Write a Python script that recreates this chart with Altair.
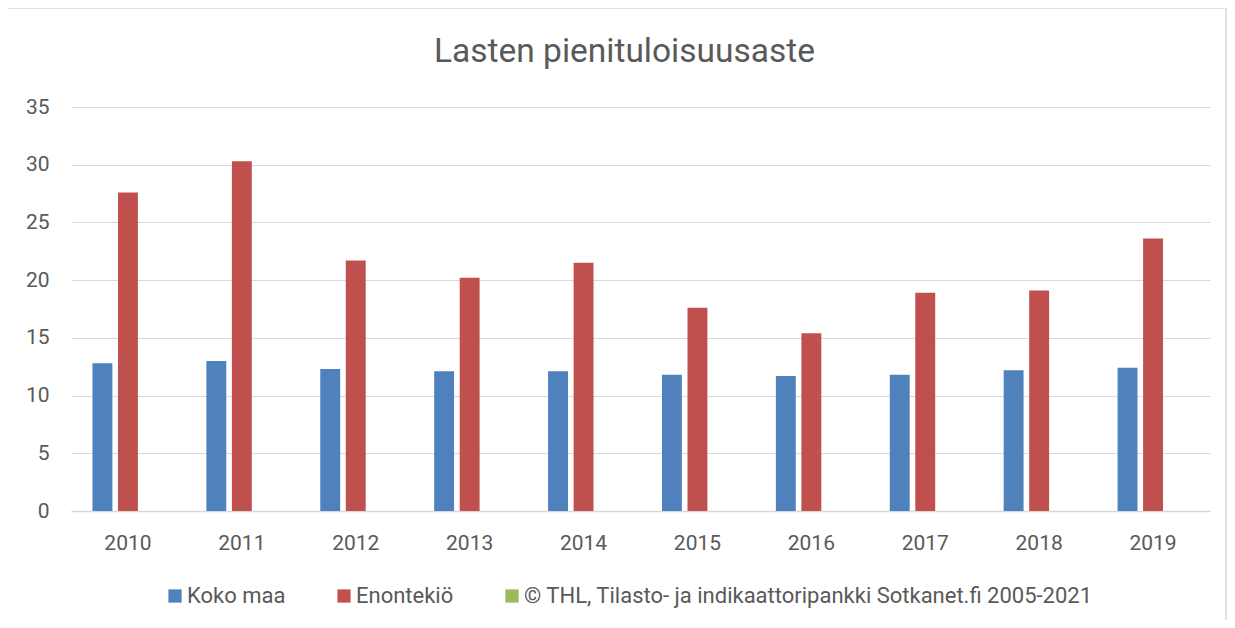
import altair as alt
import pandas as pd

years = ["2010", "2011", "2012", "2013", "2014", "2015", "2016", "2017", "2018", "2019"]
koko_maa = [12.8, 13.0, 12.3, 12.1, 12.1, 11.8, 11.7, 11.8, 12.2, 12.4]
enontekio = [27.6, 30.3, 21.7, 20.2, 21.5, 17.6, 15.4, 18.9, 19.1, 23.6]
series_names = ["Koko maa", "Enontekiö", "© THL, Tilasto- ja indikaattoripankki Sotkanet.fi 2005-2021"]
series_colors = ["#4F81BD", "#C0504D", "#9BBB59"]
y_ticks = [0, 5, 10, 15, 20, 25, 30, 35]

rows = []
for i, y in enumerate(years):
    rows.append({"year": y, "series": series_names[0], "value": koko_maa[i]})
    rows.append({"year": y, "series": series_names[1], "value": enontekio[i]})
df = pd.DataFrame(rows)

FONT = "Roboto"
TXT = "#595959"
GRID = "#D9D9D9"

bars = alt.Chart(df).mark_bar().encode(
    x=alt.X("year:N", sort=years,
            scale=alt.Scale(paddingInner=0.377, paddingOuter=0.1885),
            axis=alt.Axis(title=None, labelAngle=0, ticks=False, tickSize=0,
                          domainColor=GRID, domainWidth=1.5,
                          labelPadding=21, labelFontSize=21, labelFont=FONT,
                          labelColor=TXT, grid=False)),
    xOffset=alt.XOffset("series:N",
                        scale=alt.Scale(domain=series_names, paddingInner=0.22, paddingOuter=0)),
    y=alt.Y("value:Q",
            scale=alt.Scale(domain=[0, 35], nice=False),
            axis=alt.Axis(title=None, values=y_ticks, ticks=False, tickSize=0, domain=False,
                          gridColor=GRID, gridWidth=1.2,
                          labelPadding=22, labelFontSize=21, labelFont=FONT,
                          labelColor=TXT)),
    color=alt.Color("series:N",
                    scale=alt.Scale(domain=series_names, range=series_colors),
                    legend=alt.Legend(title=None, orient="none", direction="horizontal",
                                      legendX=93, legendY=478,
                                      symbolType="square", symbolSize=175,
                                      symbolStrokeWidth=0, symbolOpacity=1,
                                      labelFontSize=22, labelFont=FONT, labelColor=TXT,
                                      labelOffset=1, columnPadding=47,
                                      labelLimit=800)),
)

frame = alt.Chart(pd.DataFrame({"a": [0]})).mark_rect(
    filled=False, stroke=GRID, strokeWidth=1.5
).encode(
    x=alt.value(-64), x2=alt.value(1155), y=alt.value(-99), y2=alt.value(700)
)

chart = alt.layer(frame, bars).properties(
    width=1139,
    height=404,
    title=alt.TitleParams(
        "Lasten pienituloisuusaste",
        font=FONT, fontSize=33.5, fontWeight="normal", color=TXT,
        anchor="middle", offset=-88, baseline="alphabetic", dx=-16,
    ),
    autosize=alt.AutoSizeParams(type="none"),
    padding={"left": 63, "top": 99, "right": 17, "bottom": 109},
).configure(background="white", view=alt.ViewConfig(stroke=None))

chart.save("out.html", embed_options={"renderer": "svg", "actions": False})
